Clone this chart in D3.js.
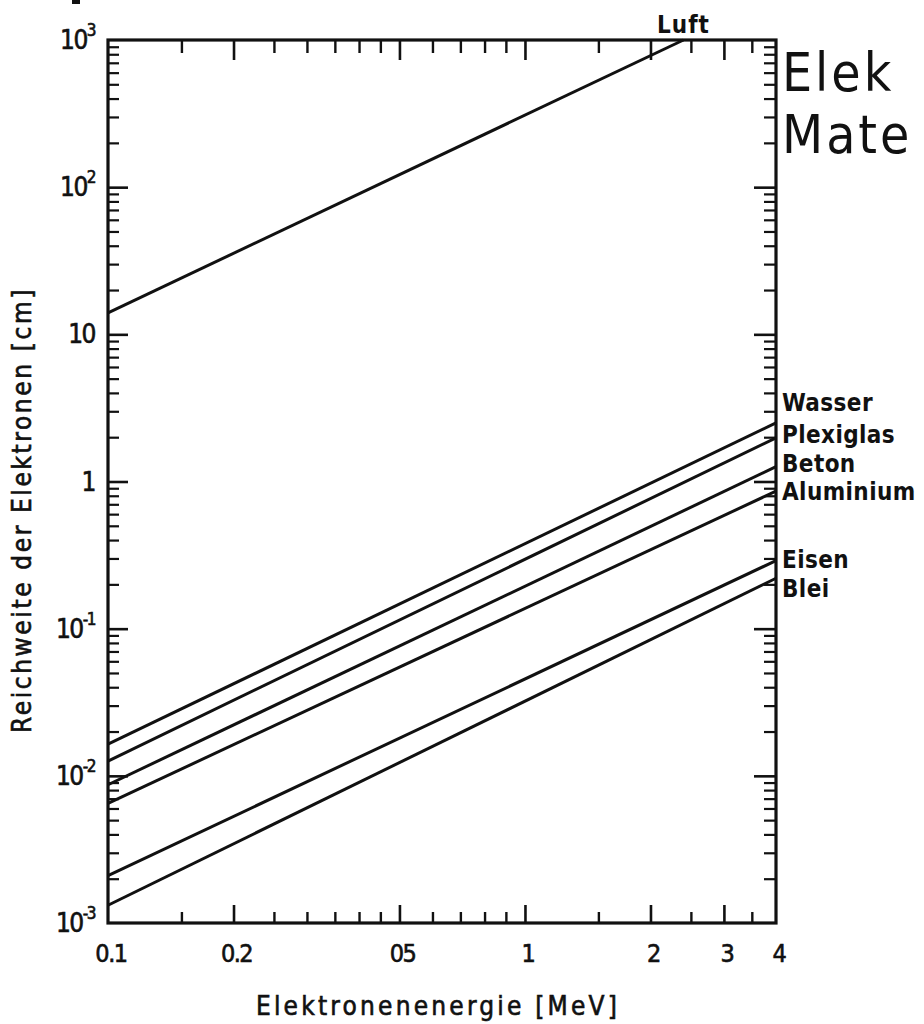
<!DOCTYPE html>
<html>
<head>
<meta charset="utf-8">
<script src="https://cdn.jsdelivr.net/npm/d3@7"></script>
<style>
  html, body { margin: 0; padding: 0; background: #fff; overflow: hidden; }
  svg { display: block; }
  text { font-family: "DejaVu Sans Condensed", "DejaVu Sans", sans-serif; fill: #111; }
  .heavy { stroke: #111; stroke-width: 0.6px; }
</style>
</head>
<body>
<svg id="chart" width="924" height="1024"></svg>
<script>
// Values
const materials = ["Wasser", "Plexiglas", "Beton", "Aluminium", "Eisen", "Blei"];
const energyEnds = [0.1, 4];                                           // MeV
const rangeLow  = [0.0164, 0.0126, 0.0087, 0.0065, 0.0021, 0.00132];   // cm at 0.1 MeV
const rangeHigh = [2.5, 1.98, 1.26, 0.86, 0.29, 0.22];                 // cm at 4 MeV
const luftEnergy = [0.1, 2.4];
const luftRange = [14, 1000];

const xMajor = [0.1, 0.2, 0.5, 1, 2, 3, 4];
const xMajorLabels = ["0.1", "0.2", "05", "1", "2", "3", "4"];
const xMinor = [0.15, 0.25, 0.3, 0.35, 0.4, 0.45, 0.6, 0.7, 0.8, 0.9, 1.5, 2.5, 3.5];
const yDecades = [1e-3, 1e-2, 1e-1, 1, 10, 100, 1000];
const yDecadeBase = ["10", "10", "10", "1", "10", "10", "10"];
const yDecadeExp = ["-3", "-2", "-1", "", "", "2", "3"];

// what is left of the slide heading, cut by the page edge
const headingLines = ["Elek", "Mate"];

// layout
const mLeft = 108, mRight = 776, mTop = 40, mBottom = 923;
const labelDy = [-12, 5, 5, 9, 7, 19];

const svg = d3.select("#chart");

const x = d3.scaleLog().domain([0.1, 4]).range([mLeft, mRight]);
const y = d3.scaleLog().domain([1e-3, 1e3]).range([mBottom, mTop]);

const isDecade = (t) => Math.abs(Math.log10(t) - Math.round(Math.log10(t))) < 1e-9;
const yMinor = y.ticks().filter((t) => !isDecade(t));
const yInner = yDecades.slice(1, -1);
const xInner = xMajor.slice(1, -1);

const tickStyle = (g, w) => {
  g.select(".domain").remove();
  g.selectAll(".tick line").attr("stroke", "#111").attr("stroke-width", w);
};

// x ticks, bottom and top (pointing inward)
svg.append("g").attr("transform", `translate(0,${mBottom})`)
  .call(d3.axisBottom(x).tickValues(xInner).tickSize(-18).tickFormat(""))
  .call(tickStyle, 2.6);
svg.append("g").attr("transform", `translate(0,${mBottom})`)
  .call(d3.axisBottom(x).tickValues(xMinor).tickSize(-11).tickFormat(""))
  .call(tickStyle, 2.4);
svg.append("g").attr("transform", `translate(0,${mTop})`)
  .call(d3.axisTop(x).tickValues(xInner).tickSize(-20).tickFormat(""))
  .call(tickStyle, 2.6);
svg.append("g").attr("transform", `translate(0,${mTop})`)
  .call(d3.axisTop(x).tickValues(xMinor).tickSize(-13).tickFormat(""))
  .call(tickStyle, 2.4);

// y ticks, left and right
svg.append("g").attr("transform", `translate(${mLeft},0)`)
  .call(d3.axisLeft(y).tickValues(yInner).tickSize(-20).tickFormat(""))
  .call(tickStyle, 2.6);
svg.append("g").attr("transform", `translate(${mLeft},0)`)
  .call(d3.axisLeft(y).tickValues(yMinor).tickSize(-11).tickFormat(""))
  .call(tickStyle, 2.2);
svg.append("g").attr("transform", `translate(${mRight},0)`)
  .call(d3.axisRight(y).tickValues(yInner).tickSize(-22).tickFormat(""))
  .call(tickStyle, 2.6);
svg.append("g").attr("transform", `translate(${mRight},0)`)
  .call(d3.axisRight(y).tickValues(yMinor).tickSize(-12).tickFormat(""))
  .call(tickStyle, 2.2);

// frame
svg.append("rect")
  .attr("x", mLeft).attr("y", mTop)
  .attr("width", mRight - mLeft).attr("height", mBottom - mTop)
  .attr("fill", "none").attr("stroke", "#111").attr("stroke-width", 3.2);

// curves
const line = d3.line().x((d) => x(d[0])).y((d) => y(d[1]));
const series = materials.map((m, i) => ({
  name: m,
  pts: [[energyEnds[0], rangeLow[i]], [energyEnds[1], rangeHigh[i]]],
  dy: labelDy[i]
}));

svg.append("g").selectAll("path")
  .data([luftEnergy.map((e, i) => [e, luftRange[i]])].concat(series.map((s) => s.pts)))
  .join("path")
    .attr("d", line)
    .attr("fill", "none")
    .attr("stroke", "#111")
    .attr("stroke-width", 3);

// curve labels
svg.append("g").selectAll("text")
  .data(series)
  .join("text")
    .attr("x", mRight + 6)
    .attr("y", (d) => y(d.pts[1][1]) + d.dy)
    .attr("font-size", 24)
    .attr("font-weight", "bold")
    .attr("letter-spacing", 0.4)
    .text((d) => d.name);

svg.append("text")
  .attr("x", x(luftEnergy[1]))
  .attr("y", mTop - 7)
  .attr("text-anchor", "middle")
  .attr("font-size", 24)
  .attr("font-weight", "bold")
  .attr("letter-spacing", 1)
  .text("Luft");

// x tick labels
svg.append("g").selectAll("text")
  .data(xMajor)
  .join("text")
    .attr("class", "heavy")
    .attr("x", (d) => x(d) + 3)
    .attr("y", mBottom + 39)
    .attr("text-anchor", "middle")
    .attr("font-size", 25)
    .attr("letter-spacing", -1.5)
    .text((d, i) => xMajorLabels[i]);

// y tick labels
const yLab = svg.append("g").selectAll("text")
  .data(yDecades)
  .join("text")
    .attr("class", "heavy")
    .attr("x", mLeft - 13)
    .attr("y", (d) => y(d) + 9)
    .attr("text-anchor", "end")
    .attr("font-size", 26)
    .attr("letter-spacing", -1.5);
yLab.append("tspan").text((d, i) => yDecadeBase[i]);
yLab.append("tspan")
  .attr("font-size", 17)
  .attr("dy", -13)
  .text((d, i) => yDecadeExp[i]);

// axis titles
svg.append("text")
  .attr("class", "heavy")
  .attr("x", 438)
  .attr("y", 1015)
  .attr("text-anchor", "middle")
  .attr("font-size", 26)
  .attr("letter-spacing", 3.2)
  .text("Elektronenenergie [MeV]");

svg.append("text")
  .attr("class", "heavy")
  .attr("transform", `translate(31,510) rotate(-90)`)
  .attr("text-anchor", "middle")
  .attr("font-size", 26)
  .attr("letter-spacing", 2.6)
  .text("Reichweite  der  Elektronen [cm]");

// slide heading
svg.append("g").selectAll("text")
  .data(headingLines)
  .join("text")
    .attr("x", 782)
    .attr("y", (d, i) => 91 + i * 62)
    .attr("font-family", "'DejaVu Sans', Verdana, sans-serif")
    .attr("font-size", 53)
    .attr("letter-spacing", 3)
    .attr("fill", "#000")
    .text((d) => d);

// scrap of an element cut at the top edge
svg.append("rect").attr("x", 72).attr("y", 0).attr("width", 8).attr("height", 4).attr("fill", "#111");
</script>
</body>
</html>
